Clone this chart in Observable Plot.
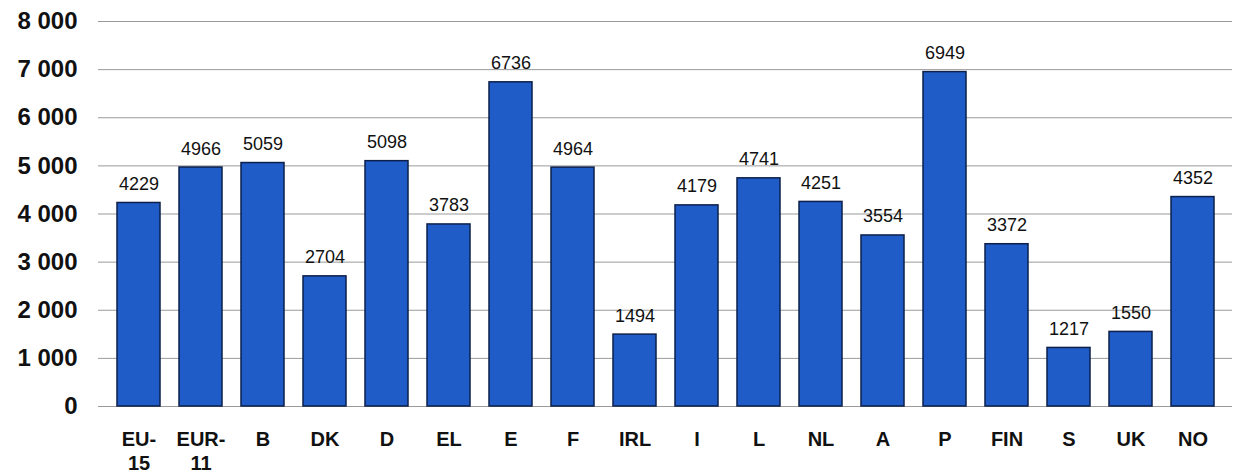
<!DOCTYPE html>
<html>
<head>
<meta charset="utf-8">
<script src="https://cdn.jsdelivr.net/npm/d3@7"></script>
<script src="https://cdn.jsdelivr.net/npm/@observablehq/plot@0.6"></script>
<style>
html, body { margin: 0; padding: 0; background: #ffffff; }
#chart svg { display: block; font-family: "Liberation Sans", Arial, sans-serif; overflow: hidden; }
</style>
</head>
<body>
<div id="chart"></div>
<script>
const categories = ["EU-15", "EUR-11", "B", "DK", "D", "EL", "E", "F", "IRL", "I", "L", "NL", "A", "P", "FIN", "S", "UK", "NO"];
const values = [4229, 4966, 5059, 2704, 5098, 3783, 6736, 4964, 1494, 4179, 4741, 4251, 3554, 6949, 3372, 1217, 1550, 4352];
const yTicks = [0, 1000, 2000, 3000, 4000, 5000, 6000, 7000, 8000];
const xLabels = {"EU-15": "EU-\n15", "EUR-11": "EUR-\n11"};

const data = categories.map((c, i) => ({cat: c, value: values[i]}));
const fmt = d3.formatLocale({thousands: " ", grouping: [3], decimal: ","}).format(",");

const chart = Plot.plot({
  width: 1233,
  height: 473,
  marginLeft: 89,
  marginRight: -8,
  marginTop: 21,
  marginBottom: 67,
  style: {background: "#ffffff"},
  x: {domain: categories, padding: 0.31, label: null},
  y: {domain: [0, 8000], label: null},
  marks: [
    Plot.ruleY(yTicks, {stroke: "#9a9a9a", strokeWidth: 1, insetLeft: 9, insetRight: 9}),
    Plot.barY(data, {x: "cat", y: "value", fill: "#1f5cc8", stroke: "#0d1f4a", strokeWidth: 1.5}),
    Plot.text(data, {x: "cat", y: "value", text: d => String(d.value), dy: -13, lineAnchor: "bottom", fontSize: 18, letterSpacing: "0.5px", fill: "#111"}),
    Plot.axisY({ticks: yTicks, tickFormat: fmt, tickSize: 0, tickPadding: 12, fontSize: 24, fontWeight: "bold", fill: "#111", label: null}),
    Plot.axisX({tickSize: 0, tickPadding: 22, fontSize: 20, fontWeight: "bold", fill: "#111", lineHeight: 1.2, tickFormat: d => xLabels[d] || d, label: null})
  ]
});
document.getElementById("chart").appendChild(chart);
</script>
</body>
</html>
